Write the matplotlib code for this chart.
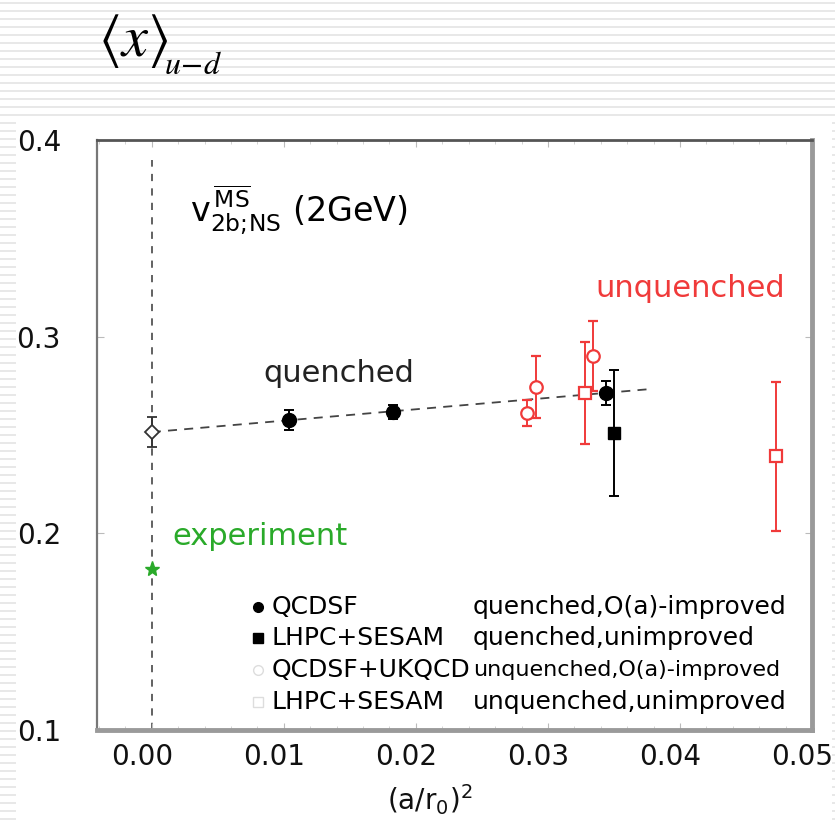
import matplotlib
matplotlib.use('Agg')
import matplotlib.pyplot as plt
from matplotlib.lines import Line2D
from matplotlib.patches import Rectangle
import matplotlib.transforms as mtransforms

plt.rcParams['font.family'] = ['DejaVu Sans']

# ---------------- data ----------------
qcdsf_q_x = [0.0104, 0.0183, 0.0344]
qcdsf_q_y = [0.2576, 0.2617, 0.2714]
qcdsf_q_err = [0.005, 0.0034, 0.006]

lhpc_q_x = [0.0350]
lhpc_q_y = [0.2510]
lhpc_q_err = [0.032]

qcdsf_uq_x = [0.0284, 0.0291, 0.0334]
qcdsf_uq_y = [0.2612, 0.2744, 0.2902]
qcdsf_uq_err = [0.0064, 0.016, 0.018]

lhpc_uq_x = [0.0328, 0.0473]
lhpc_uq_y = [0.2714, 0.2393]
lhpc_uq_err = [0.026, 0.0379]

chiral_x = [0.0]
chiral_y = [0.2515]
chiral_err = [0.0075]

expt_x = [0.0]
expt_y = [0.182]

fit_x = [0.0, 0.038]
fit_y = [0.2515, 0.2735]

x_ticks = [0.00, 0.01, 0.02, 0.03, 0.04, 0.05]
x_ticklabels = ['0.00', '0.01', '0.02', '0.03', '0.04', '0.05']
y_ticks = [0.1, 0.2, 0.3, 0.4]
y_ticklabels = ['0.1', '0.2', '0.3', '0.4']

legend_names = ['QCDSF', 'LHPC+SESAM', 'QCDSF+UKQCD', 'LHPC+SESAM']
legend_desc = ['quenched,O(a)-improved', 'quenched,unimproved',
               'unquenched,O(a)-improved', 'unquenched,unimproved']

RED = '#f03a3a'
GREEN = '#2aaa2a'

W, H = 835, 821
fig = plt.figure(figsize=(W / 100, H / 100), dpi=100)
fig.patch.set_facecolor('white')

# striped background
for yy in range(3, H, 8):
    fig.add_artist(Line2D([0, 1], [1 - yy / H] * 2, transform=fig.transFigure,
                          color='#e4e4e4', lw=1.2, zorder=-10))
fig.add_artist(Rectangle((16 / W, 0), (832 - 16) / W, 1 - 118 / H,
                         transform=fig.transFigure, facecolor='white',
                         edgecolor='none', zorder=-5))

ax = fig.add_axes([97 / W, 1 - 730 / H, (812 - 97) / W, (730 - 140) / H])
ax.set_facecolor('white')
ax.set_xlim(-0.00415, 0.0498)
ax.set_ylim(0.1, 0.4)

# vertical dashed line at x=0 and fit line
ax.plot([0, 0], [0.1, 0.39], ls=(0, (4, 4)), color='#555555', lw=1.3, zorder=1)
ax.plot(fit_x, fit_y, ls=(0, (5, 4)), color='#444444', lw=1.3, zorder=1)

ekw = dict(capsize=3.5, elinewidth=1.4, capthick=1.4, ls='none')
ax.errorbar(qcdsf_uq_x, qcdsf_uq_y, yerr=qcdsf_uq_err, fmt='o', ms=9,
            mfc='white', mec=RED, mew=1.6, ecolor=RED, zorder=3, **ekw)
ax.errorbar(lhpc_uq_x, lhpc_uq_y, yerr=lhpc_uq_err, fmt='s', ms=8,
            mfc='white', mec=RED, mew=1.6, ecolor=RED, zorder=3, **ekw)
ax.errorbar(qcdsf_q_x, qcdsf_q_y, yerr=qcdsf_q_err, fmt='o', ms=10,
            mfc='black', mec='black', ecolor='black', zorder=4, **ekw)
ax.errorbar(lhpc_q_x, lhpc_q_y, yerr=lhpc_q_err, fmt='s', ms=9,
            mfc='black', mec='black', ecolor='black', zorder=4, **ekw)
ax.errorbar(chiral_x, chiral_y, yerr=chiral_err, fmt='D', ms=7,
            mfc='white', mec='#333333', mew=1.3, ecolor='#333333', zorder=4, **ekw)
ax.plot(expt_x, expt_y, marker='*', ms=11, color=GREEN, mec=GREEN, ls='none', zorder=4)

# annotations
ax.text((190 - 97) / (812 - 97), (730 - 210) / 590,
        r'$\mathrm{v}^{\,\overline{\mathrm{MS}}}_{\mathrm{2b;\!NS}}$ (2GeV)',
        transform=ax.transAxes, fontsize=24, va='center', ha='left',
        math_fontfamily='dejavusans')
ax.text((263 - 97) / 715, (730 - 373) / 590, 'quenched', transform=ax.transAxes,
        fontsize=22, va='center', ha='left', color='#222222')
ax.text((595 - 97) / 715, (730 - 288) / 590, 'unquenched', transform=ax.transAxes,
        fontsize=22, va='center', ha='left', color=RED)
ax.text((172 - 97) / 715, (730 - 536) / 590, 'experiment', transform=ax.transAxes,
        fontsize=22, va='center', ha='left', color=GREEN)

# legend (manual two-column layout)
leg_rows = [607, 638, 670, 702]
leg_markers = [('o', 'black', 'black'), ('s', 'black', 'black'),
               ('o', 'white', '#dddddd'), ('s', 'white', '#dddddd')]
leg_sizes = [18, 18, 18, 18]
desc_sizes = [18, 18, 16, 18]
for i, py in enumerate(leg_rows):
    yax = (730 - py) / 590
    m, fc, ec = leg_markers[i]
    ax.plot([(258 - 97) / 715], [yax], marker=m, ms=7, mfc=fc, mec=ec,
            transform=ax.transAxes, ls='none')
    ax.text((272 - 97) / 715, yax, legend_names[i], transform=ax.transAxes,
            fontsize=leg_sizes[i], va='center', ha='left')
    ax.text((473 - 97) / 715, yax, legend_desc[i], transform=ax.transAxes,
            fontsize=desc_sizes[i], va='center', ha='left')

# ticks
ax.set_xticks(x_ticks)
ax.set_xticklabels(x_ticklabels)
ax.set_yticks(y_ticks)
ax.set_yticklabels(y_ticklabels)
ax.set_xticks([i * 0.002 for i in range(-2, 25)], minor=True)
ax.tick_params(axis='both', which='major', direction='in', length=5,
               color='#bbbbbb', top=True, right=True, labelsize=20,
               labelcolor='#111111')
ax.tick_params(axis='x', which='major', pad=9)
ax.tick_params(axis='y', which='major', pad=26)
ax.tick_params(axis='x', which='minor', direction='in', length=3,
               color='#cccccc', top=True, bottom=True)
off = mtransforms.ScaledTranslation(-10 / 100, 0, fig.dpi_scale_trans)
for lbl in ax.get_xticklabels():
    lbl.set_transform(lbl.get_transform() + off)

ax.set_xlabel(r'(a/r$_0$)$^2$', fontsize=20, color='#111111')
ax.xaxis.set_label_coords((430 - 97) / 715, -(800 - 730) / 590)
ax.xaxis.label.set_va('center')

for side, c, lw in [('left', '#777777', 1.6), ('top', '#555555', 2.0),
                    ('right', '#9a9a9a', 3.5), ('bottom', '#9a9a9a', 3.5)]:
    ax.spines[side].set_color(c)
    ax.spines[side].set_linewidth(lw)

# title
fig.text(98 / W, 1 - 41 / H, r'$\langle x\rangle$', fontsize=42,
         va='center', ha='left', math_fontfamily='stix')
fig.text(164 / W, 1 - 66 / H, r'$u\!-\!d$', fontsize=23,
         va='center', ha='left', math_fontfamily='stix')

fig.savefig('out.png', dpi=100)
